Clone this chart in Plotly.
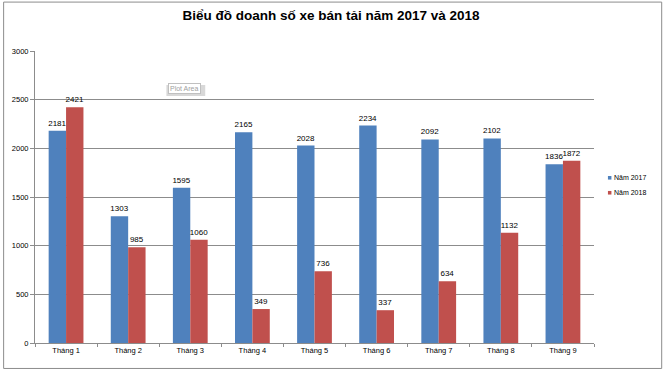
import plotly.graph_objects as go

months = ["Tháng 1", "Tháng 2", "Tháng 3", "Tháng 4", "Tháng 5", "Tháng 6", "Tháng 7", "Tháng 8", "Tháng 9"]
sales_2017 = [2181, 1303, 1595, 2165, 2028, 2234, 2092, 2102, 1836]
sales_2018 = [2421, 985, 1060, 349, 736, 337, 634, 1132, 1872]
series_names = ["Năm 2017", "Năm 2018"]
series_colors = ["#4F81BD", "#C0504D"]
y_ticks = [0, 500, 1000, 1500, 2000, 2500, 3000]

FONT = "Liberation Sans, Arial, sans-serif"

fig = go.Figure()
for name, vals, col in zip(series_names, [sales_2017, sales_2018], series_colors):
    fig.add_trace(go.Bar(x=months, y=vals, name=name,
                         marker=dict(color=col, line=dict(width=0)),
                         text=[str(v) for v in vals], textposition="outside",
                         constraintext="none",
                         textfont=dict(size=8, color="#000", family=FONT),
                         cliponaxis=False, showlegend=False))

L, R, T, B = 33, 594.5, 50.5, 343
W, H = 665, 371
pw, ph = R - L, B - T

def px(x):
    return (x - L) / pw

def py(y):
    return (B - y) / ph

fig.update_layout(
    width=W, height=H,
    margin=dict(l=L, r=W - R, t=T, b=H - B, pad=0),
    paper_bgcolor="white", plot_bgcolor="white",
    barmode="group", bargap=0.44, bargroupgap=0,
    title=dict(text="<b>Biểu đồ doanh số xe bán tải năm 2017 và 2018</b>",
               x=331 / W, xanchor="center", y=1 - 10.5 / H, yanchor="top",
               font=dict(size=13.5, color="#000", family=FONT)),
    font=dict(family=FONT, size=8, color="#000"),
    showlegend=False,
)
fig.update_yaxes(range=[0, 3000], tickvals=y_ticks, showgrid=True, gridcolor="#8C8C8C",
                 gridwidth=1, showline=True, linecolor="#8C8C8C", ticks="outside",
                 ticklen=4, tickcolor="#8C8C8C", zeroline=False,
                 tickfont=dict(size=7.5, family=FONT, color="#000"))
fig.update_xaxes(showline=True, linecolor="#8C8C8C", ticks="outside", tickson="boundaries",
                 ticklen=3, tickcolor="#8C8C8C", showgrid=False,
                 tickfont=dict(size=7.5, family=FONT, color="#000"))

# chart outer border
fig.add_shape(type="rect", xref="paper", yref="paper",
              x0=px(1.5), x1=px(662.5), y0=py(368.5), y1=py(1.5),
              line=dict(color="#8C8C8C", width=1), fillcolor="rgba(0,0,0,0)", layer="below")

# custom legend (small square markers like Excel)
legend_y = [177.5, 192.5]
for name, col, ly in zip(series_names, series_colors, legend_y):
    fig.add_shape(type="rect", xref="paper", yref="paper",
                  x0=px(608.5), x1=px(612), y0=py(ly + 1.8), y1=py(ly - 1.8),
                  line=dict(width=0), fillcolor=col)
    fig.add_annotation(xref="paper", yref="paper", x=px(613), y=py(ly),
                       xanchor="left", yanchor="middle", text=name, showarrow=False,
                       font=dict(size=7, color="#000", family=FONT))

# Excel "Plot Area" tooltip (with soft shadow)
fig.add_shape(type="rect", xref="paper", yref="paper",
              x0=px(165), x1=px(204), y0=py(95.5), y1=py(84.5),
              line=dict(width=0), fillcolor="#D8D8D8")
fig.add_annotation(xref="paper", yref="paper", x=px(183), y=py(88.5),
                   xanchor="center", yanchor="middle",
                   text="Plot Area", showarrow=False,
                   font=dict(size=7, color="#A0A0A0", family=FONT),
                   bgcolor="white", bordercolor="#C0C0C0", borderwidth=1, borderpad=1)

fig.write_html("out.html", config={"displayModeBar": False},
               post_script="document.body.style.margin='0px';")
